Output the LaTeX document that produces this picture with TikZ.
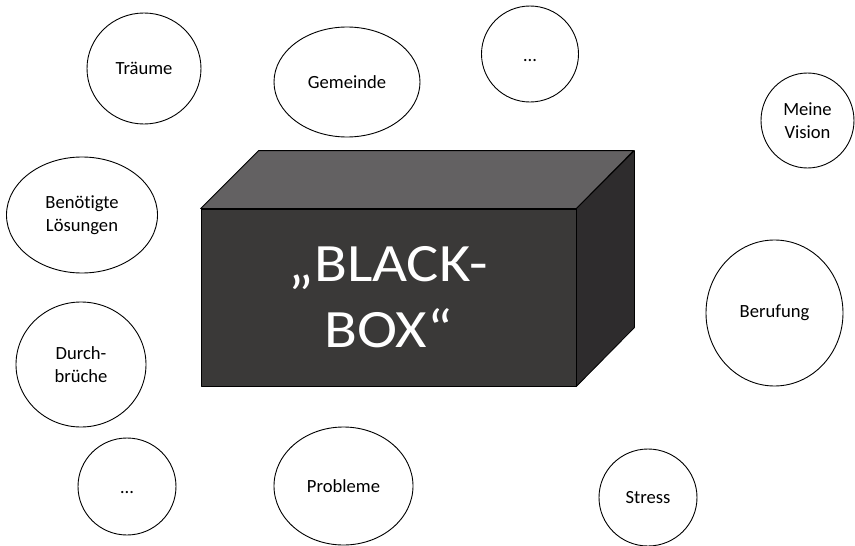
\documentclass[tikz,border=0pt]{standalone}
\usepackage{fontspec}
\setmainfont{Carlito}[Ligatures=NoCommon]
\newfontfamily\boxfont[FakeStretch=1.12]{Carlito}
\usetikzlibrary{shapes.geometric}

\definecolor{boxfront}{HTML}{3A3938}
\definecolor{boxtop}{HTML}{636162}
\definecolor{boxside}{HTML}{2E2C2D}

\begin{document}
\begin{tikzpicture}[
    x=1pt, y=-1pt,
    idea/.style={draw, ellipse, line width=0.9pt, inner sep=0pt, align=center, font=\fontsize{18.6}{23}\selectfont},
    dots/.style={idea, text height=14pt, text depth=0pt},
    face/.style={draw=black, line width=0.8pt, line join=round}
]
\useasboundingbox (0,0) rectangle (855,546);

% the black box
\node[face, fill=boxfront, minimum width=375pt, minimum height=177pt, inner sep=0pt, align=center, text=white, font=\boxfont\fontsize{54}{66}\selectfont] (box) at (388.5,297.5) {„BLACK-\\BOX“};
\draw[face, fill=boxtop] (box.north west) -- ++(58,-58) -- ++(375,0) -- (box.north east) -- cycle;
\draw[face, fill=boxside] (box.north east) -- ++(58,-58) -- ++(0,177) -- (box.south east) -- cycle;

% the ideas around it
\node[idea, minimum width=114pt, minimum height=111pt] (traeume) at (144,68.5) {Träume};
\node[idea, minimum width=146pt, minimum height=110pt] (gemeinde) at (347,82) {Gemeinde};
\node[dots, minimum width=97pt, minimum height=96pt] (dotstop) at (530,54) {…};
\node[idea, minimum width=93pt, minimum height=95pt] (vision) at (807.5,120.5) {Meine\\Vision};
\node[idea, minimum width=151pt, minimum height=116pt] (loesungen) at (82,215) {Benötigte\\Lösungen};
\node[idea, minimum width=137pt, minimum height=146pt] (berufung) at (774.5,313) {Berufung};
\node[idea, minimum width=130pt, minimum height=125pt] (durchbrueche) at (81,364.5) {Durch-\\brüche};
\node[dots, minimum width=98pt, minimum height=97pt] (dotsbottom) at (127,486.5) {…};
\node[idea, minimum width=139pt, minimum height=118pt] (probleme) at (343.5,486) {Probleme};
\node[idea, minimum width=98pt, minimum height=97pt] (stress) at (648,497.5) {Stress};

\end{tikzpicture}
\end{document}
